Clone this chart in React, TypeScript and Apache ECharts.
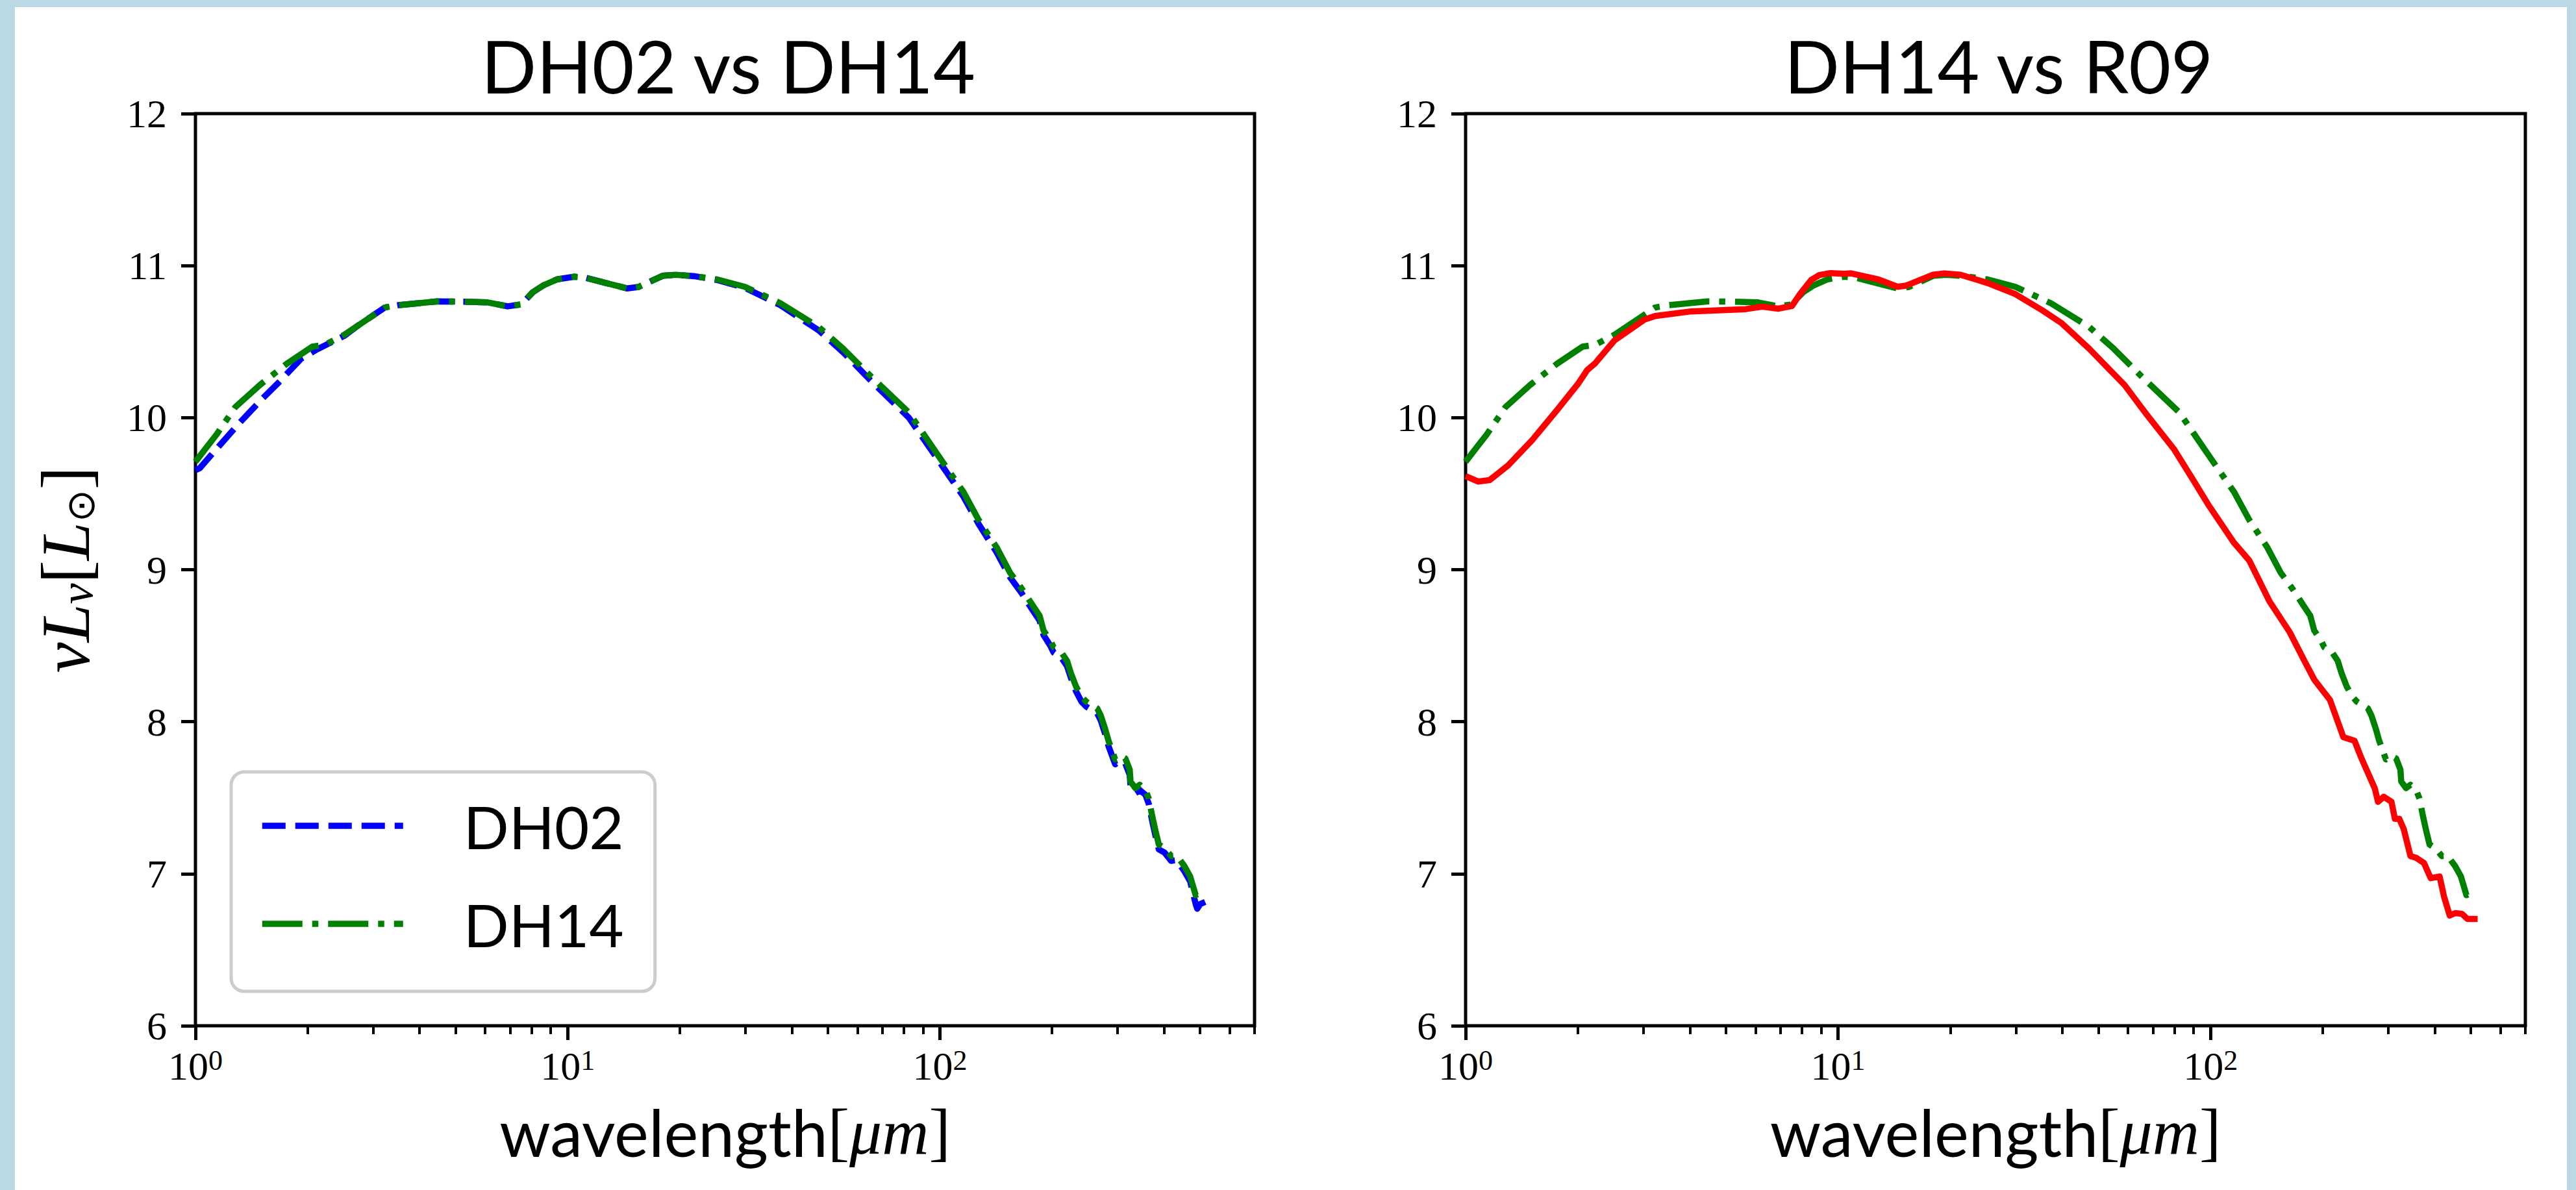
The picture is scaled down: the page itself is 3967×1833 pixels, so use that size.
import React, { useEffect, useRef } from 'react';
import * as echarts from 'echarts';

// ---------- data (wavelength in micron, log10 luminosity) ----------
const DH02_WAVELENGTH = [1.0, 1.027, 1.156, 1.323, 1.515, 1.677, 1.921, 2.125, 2.517, 2.785, 2.97, 3.23, 3.51, 4.46, 5.27, 6.1, 6.9, 7.5, 8.06, 8.6, 9.37, 10.4, 11.1, 12.7, 14.45, 15.5, 17.99, 19.5, 22, 25.24, 29.9, 37.25, 47.2, 54.95, 65.1, 82.5, 97.7, 115.7, 127.05, 141.9, 154.3, 165.3, 177.2, 185.2, 189.8, 197.9, 202.0, 212.0, 219.5, 224.7, 232.0, 240.2, 247.0, 264.6, 270.2, 277.8, 283.6, 295.6, 306.0, 314.7, 323.4, 325, 334.8, 344.1, 356.3, 363.8, 371.4, 379.2, 387.2, 400.8, 417.8, 432.5, 453.9, 470.0, 486.4, 491, 500, 516];
const DH02_LUM = [9.655, 9.668, 9.812, 9.974, 10.126, 10.234, 10.387, 10.45, 10.54, 10.621, 10.665, 10.725, 10.74, 10.765, 10.763, 10.758, 10.732, 10.745, 10.825, 10.87, 10.91, 10.927, 10.922, 10.885, 10.85, 10.86, 10.933, 10.94, 10.93, 10.905, 10.855, 10.74, 10.575, 10.43, 10.245, 10.0, 9.74, 9.48, 9.3, 9.115, 8.95, 8.85, 8.735, 8.665, 8.57, 8.5, 8.455, 8.42, 8.365, 8.29, 8.2, 8.13, 8.1, 8.055, 8.01, 7.92, 7.84, 7.72, 7.745, 7.725, 7.65, 7.575, 7.53, 7.55, 7.52, 7.46, 7.35, 7.25, 7.16, 7.14, 7.085, 7.09, 7.015, 6.95, 6.8, 6.77, 6.8, 6.815];

const DH14_WAVELENGTH = [1.0, 1.075, 1.14, 1.28, 1.49, 1.76, 2.06, 2.23, 2.51, 2.97, 3.23, 3.51, 4.46, 5.27, 6.1, 6.9, 7.5, 8.06, 8.6, 9.37, 10.4, 11.1, 12.7, 14.45, 15.5, 17.99, 19.5, 22, 25.24, 29.9, 37.25, 47.2, 54.95, 65.1, 82.5, 97.7, 115.7, 127.05, 141.9, 154.3, 165.3, 177.2, 185.2, 189.8, 197.9, 202.0, 212.0, 219.5, 224.7, 232.0, 240.2, 247.0, 264.6, 270.2, 277.8, 283.6, 295.6, 306.0, 314.7, 323.4, 325, 334.8, 344.1, 356.3, 363.8, 371.4, 379.2, 387.2, 400.8, 417.8, 432.5, 453.9, 470.0, 486.4, 500.2, 514.2];
const DH14_LUM = [9.71, 9.81, 9.89, 10.07, 10.215, 10.355, 10.467, 10.48, 10.545, 10.665, 10.725, 10.74, 10.765, 10.763, 10.758, 10.732, 10.745, 10.825, 10.87, 10.91, 10.927, 10.922, 10.885, 10.85, 10.86, 10.933, 10.94, 10.93, 10.909, 10.861, 10.753, 10.597, 10.454, 10.274, 10.034, 9.77, 9.51, 9.327, 9.148, 8.98, 8.88, 8.768, 8.697, 8.6, 8.534, 8.489, 8.456, 8.4, 8.32, 8.232, 8.165, 8.132, 8.087, 8.042, 7.953, 7.875, 7.752, 7.775, 7.759, 7.685, 7.607, 7.563, 7.585, 7.552, 7.495, 7.383, 7.283, 7.192, 7.17, 7.116, 7.12, 7.049, 6.982, 6.859, 6.875, 6.897];

const R09_WAVELENGTH = [1.0, 1.08, 1.16, 1.3, 1.51, 1.76, 2.01, 2.12, 2.23, 2.51, 3.02, 3.23, 4.03, 5.65, 6.25, 6.92, 7.52, 7.92, 8.47, 8.91, 9.54, 10.38, 10.84, 12.83, 14.45, 15.2, 17.99, 19.26, 21.32, 25.24, 29.9, 35.4, 39.85, 47.2, 58.8, 67.3, 79.7, 89.8, 99.06, 115.35, 127.05, 143.95, 163.0, 179.6, 189.8, 209.2, 227.3, 243.5, 253.8, 275.9, 281.6, 291.5, 306.0, 312.5, 321.2, 330.1, 344.1, 356.3, 374.0, 389.9, 412.0, 423.6, 438.5, 453.9, 473.2, 489.8, 521.2];
const R09_LUM = [9.615, 9.58, 9.589, 9.685, 9.853, 10.05, 10.227, 10.313, 10.359, 10.508, 10.645, 10.669, 10.699, 10.714, 10.73, 10.717, 10.735, 10.816, 10.906, 10.938, 10.951, 10.946, 10.949, 10.909, 10.861, 10.868, 10.94, 10.949, 10.94, 10.885, 10.813, 10.705, 10.621, 10.454, 10.214, 10.022, 9.794, 9.59, 9.42, 9.18, 9.06, 8.791, 8.59, 8.389, 8.277, 8.143, 7.898, 7.875, 7.763, 7.562, 7.473, 7.506, 7.473, 7.361, 7.361, 7.294, 7.116, 7.105, 7.071, 6.971, 6.982, 6.848, 6.725, 6.741, 6.736, 6.702, 6.702];

const X_MIN = 1;
const X_MAX = 700;
const Y_MIN = 6;
const Y_MAX = 12;
const Y_INTERVAL = 1;
const X_MAJOR_TICKS = [1, 10, 100];
const X_MINOR_TICKS = [2, 3, 4, 5, 6, 7, 8, 9, 20, 30, 40, 50, 60, 70, 80, 90, 200, 300, 400, 500, 600, 700];
const TITLES = ['DH02 vs DH14', 'DH14 vs R09'];

const zip = (xs: number[], ys: number[]) => xs.map((x, i) => [x, ys[i]]);

const W = 3967;
const H = 1833;
const GRIDS = [
  { left: 301, top: 175, width: 1631, height: 1405 },
  { left: 2257, top: 175, width: 1632, height: 1405 },
];

const SANS = 'Lato';
const SERIF = 'Liberation Serif';
const LW = 9.5;
const DASH = [36, 15];
const DASHDOT = [62, 15, 9.5, 15];
const BLUE = '#0000ff';
const GREEN = '#008000';
const RED = '#ff0000';

function buildOption() {
  const tickLabelRich = {
    b: { fontFamily: SERIF, fontSize: 62, lineHeight: 62, color: '#000' },
    s: { fontFamily: SERIF, fontSize: 44, lineHeight: 30, verticalAlign: 'top', color: '#000' },
  };
  const xMain = (gridIndex: number) => ({
    type: 'log',
    logBase: 10,
    gridIndex,
    min: X_MIN,
    max: X_MAX,
    position: 'bottom',
    axisLine: { show: false },
    splitLine: { show: false },
    axisTick: { show: true, customValues: X_MAJOR_TICKS, length: 22, lineStyle: { color: '#000', width: 5 } },
    minorTick: { show: false },
    axisLabel: {
      show: true,
      customValues: X_MAJOR_TICKS,
      margin: 31,
      formatter: (v: number) => `{b|10}{s|${Math.round(Math.log10(v))}}`,
      rich: tickLabelRich,
    },
    name: `{s|wavelength}{r|[}{m|μm}{r|]}`,
    nameLocation: 'middle',
    nameGap: 108,
    nameTextStyle: {
      rich: {
        s: { fontFamily: SANS, fontSize: 100, lineHeight: 110, color: '#000' },
        r: { fontFamily: SERIF, fontSize: 100, lineHeight: 110, color: '#000' },
        m: { fontFamily: SERIF, fontStyle: 'italic', fontSize: 100, lineHeight: 110, color: '#000' },
      },
    },
  });
  const xMinor = (gridIndex: number) => ({
    type: 'log',
    logBase: 10,
    gridIndex,
    min: X_MIN,
    max: X_MAX,
    position: 'bottom',
    axisLine: { show: false },
    splitLine: { show: false },
    axisLabel: { show: false },
    axisTick: { show: true, customValues: X_MINOR_TICKS, length: 13, lineStyle: { color: '#000', width: 4 } },
  });
  const yAxis = (gridIndex: number, withName: boolean) => ({
    type: 'value',
    gridIndex,
    min: Y_MIN,
    max: Y_MAX,
    interval: Y_INTERVAL,
    axisLine: { show: false },
    splitLine: { show: false },
    axisTick: { show: true, length: 22, lineStyle: { color: '#000', width: 5 } },
    axisLabel: { margin: 44, fontFamily: SERIF, fontSize: 62, color: '#000' },
    name: withName ? '{i|ν}{i|L}{s|ν}{n|[}{i|L}{o|⊙}{n|]}' : '',
    nameLocation: 'middle',
    nameRotate: 90,
    nameGap: 147,
    nameTextStyle: {
      rich: {
        i: { fontFamily: SERIF, fontStyle: 'italic', fontSize: 106, lineHeight: 106, color: '#000' },
        n: { fontFamily: SERIF, fontSize: 106, lineHeight: 106, color: '#000' },
        s: { fontFamily: SERIF, fontStyle: 'italic', fontSize: 72, lineHeight: 36, verticalAlign: 'bottom', color: '#000' },
        o: { fontFamily: 'DejaVu Sans', fontSize: 60, lineHeight: 36, verticalAlign: 'bottom', color: '#000' },
      },
    },
  });

  return {
    animation: false,
    backgroundColor: 'transparent',
    title: TITLES.map((t, i) => ({
      text: t,
      left: GRIDS[i].left + GRIDS[i].width / 2,
      top: 39,
      textAlign: 'center',
      textStyle: { fontFamily: SANS, fontSize: 112, fontWeight: 'normal', color: '#000', lineHeight: 112 },
    })),
    grid: GRIDS.map((g) => ({
      ...g,
      show: true,
      borderColor: '#000',
      borderWidth: 5,
      backgroundColor: 'transparent',
      containLabel: false,
      outerBoundsMode: 'none',
    })),
    legend: {
      data: [
        { name: 'DH02', itemStyle: { opacity: 0 }, lineStyle: { color: BLUE, width: LW, type: DASH, cap: 'butt' } },
        { name: 'DH14', itemStyle: { opacity: 0 }, lineStyle: { color: GREEN, width: LW, type: DASHDOT, cap: 'butt' } },
      ],
      orient: 'vertical',
      left: 356,
      top: 1189,
      padding: [33, 48, 54, 43],
      itemWidth: 217,
      itemHeight: 10,
      itemGap: 51,
      backgroundColor: '#fff',
      borderColor: '#cccccc',
      borderWidth: 5,
      borderRadius: 20,
      itemStyle: { opacity: 0 },
      textStyle: { fontFamily: SANS, fontSize: 92, color: '#000', lineHeight: 100, padding: [0, 0, 0, 88] },
    },
    xAxis: [xMain(0), xMinor(0), xMain(1), xMinor(1)],
    yAxis: [yAxis(0, true), yAxis(1, false)],
    series: [
      {
        name: 'DH02', type: 'line', xAxisIndex: 0, yAxisIndex: 0, symbol: 'none', showSymbol: false,
        data: zip(DH02_WAVELENGTH, DH02_LUM),
        lineStyle: { color: BLUE, width: LW, type: DASH, cap: 'butt', join: 'round' },
        itemStyle: { color: BLUE }, z: 2,
      },
      {
        name: 'DH14', type: 'line', xAxisIndex: 0, yAxisIndex: 0, symbol: 'none', showSymbol: false,
        data: zip(DH14_WAVELENGTH, DH14_LUM),
        lineStyle: { color: GREEN, width: LW, type: DASHDOT, cap: 'butt', join: 'round' },
        itemStyle: { color: GREEN }, z: 3,
      },
      {
        name: 'DH14', type: 'line', xAxisIndex: 2, yAxisIndex: 1, symbol: 'none', showSymbol: false,
        data: zip(DH14_WAVELENGTH, DH14_LUM),
        lineStyle: { color: GREEN, width: LW, type: DASHDOT, cap: 'butt', join: 'round' },
        itemStyle: { color: GREEN }, z: 2,
      },
      {
        name: 'R09', type: 'line', xAxisIndex: 2, yAxisIndex: 1, symbol: 'none', showSymbol: false,
        data: zip(R09_WAVELENGTH, R09_LUM),
        lineStyle: { color: RED, width: LW, type: 'solid', cap: 'butt', join: 'round' },
        itemStyle: { color: RED }, z: 3,
      },
    ],
  };
}

export default function App() {
  const ref = useRef<HTMLDivElement>(null);
  useEffect(() => {
    if (!ref.current) return;
    const chart = echarts.init(ref.current, undefined, { renderer: 'svg', width: W, height: H });
    chart.setOption(buildOption() as any);
    return () => chart.dispose();
  }, []);
  return (
    <div style={{ position: 'fixed', left: 0, top: 0, width: W, height: H, background: '#bbd8e5', overflow: 'hidden' }}>
      <div style={{ position: 'absolute', left: 23, top: 11, width: 3953 - 23, height: H - 11, background: '#ffffff' }} />
      <div ref={ref} style={{ position: 'absolute', left: 0, top: 0, width: W, height: H }} />
    </div>
  );
}
